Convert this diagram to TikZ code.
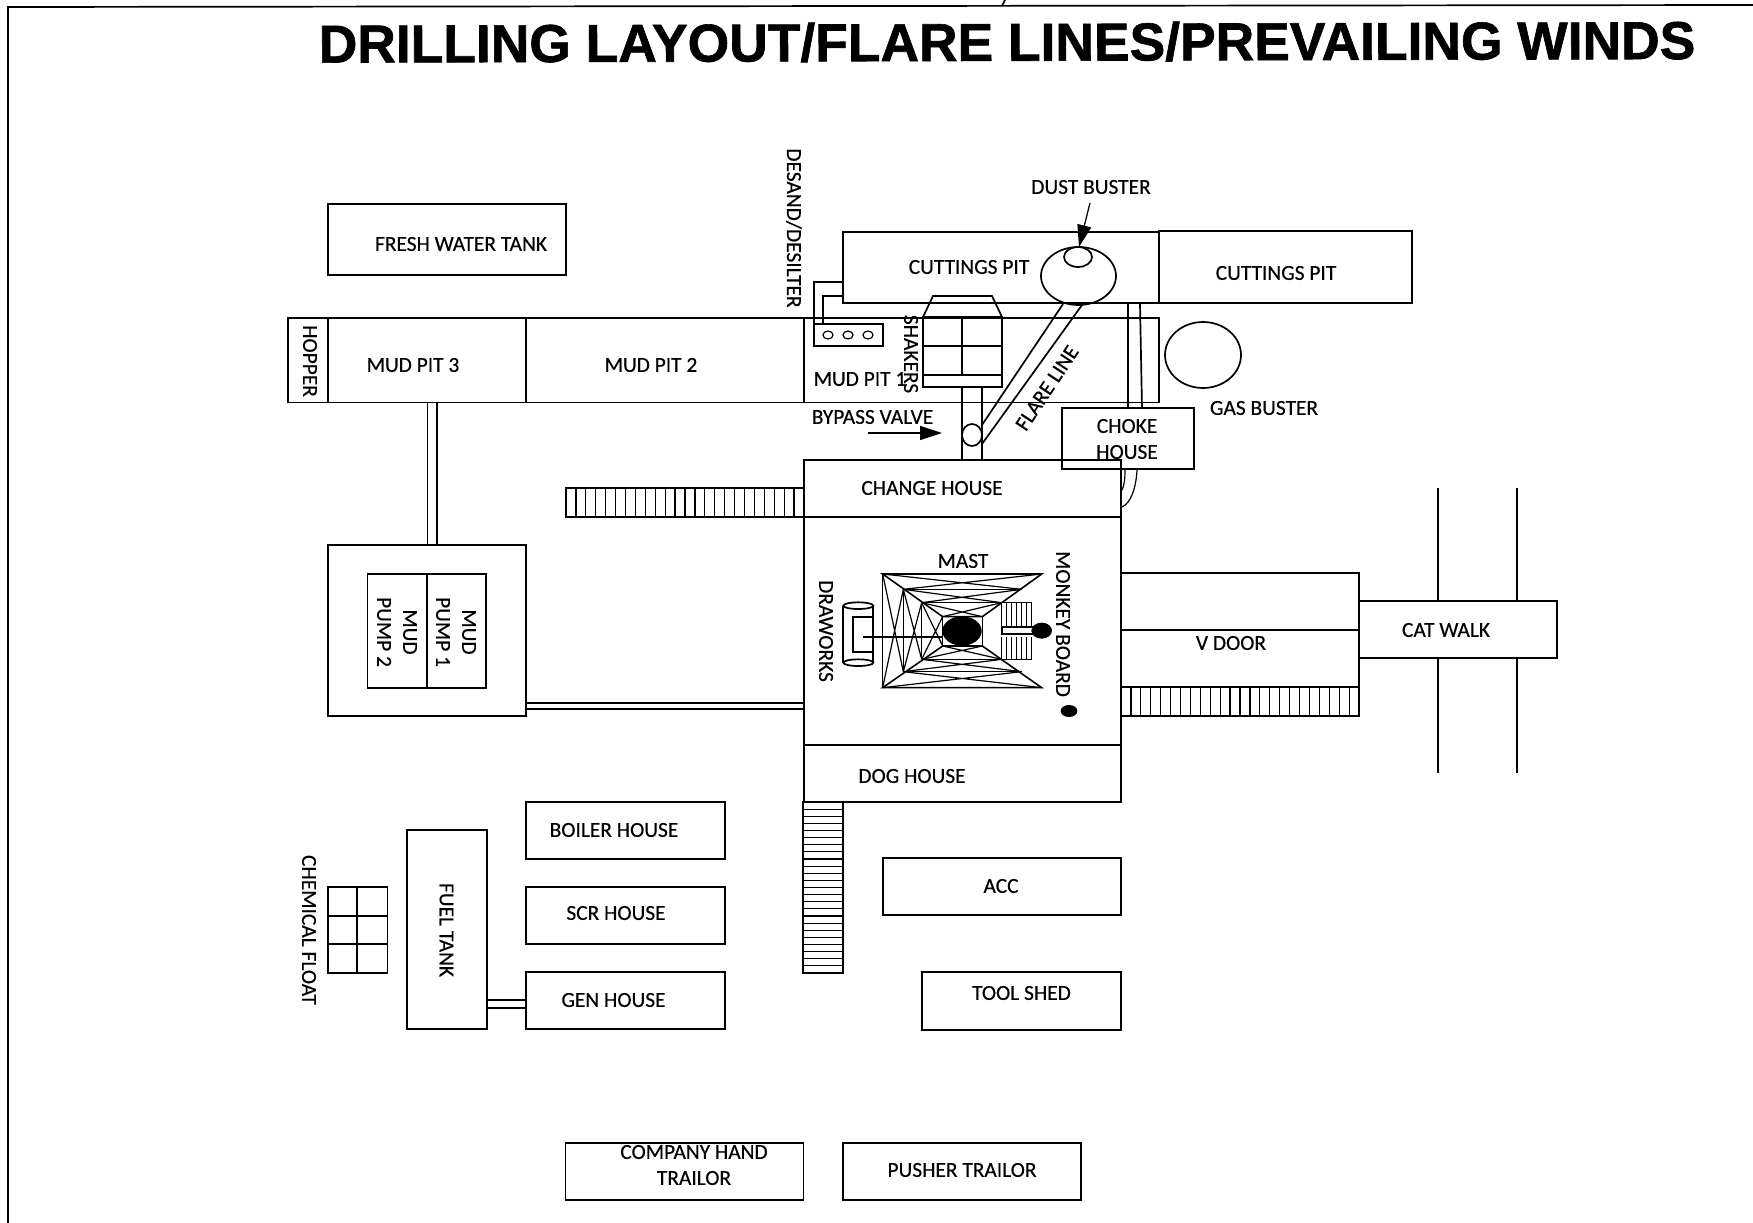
\documentclass[tikz,border=0pt]{standalone}
\usepackage{fontspec}
\setmainfont[FakeBold=0.35]{Carlito}
\newfontfamily\titlefont[FakeBold=1.2]{Liberation Sans}
\usetikzlibrary{arrows.meta}
\tikzset{
  x=1pt,y=-1pt,
  ln/.style={draw=black,line width=1.7pt,line join=miter},
  thinln/.style={draw=black,line width=1.2pt},
  lbl/.style={inner sep=0pt,font=\fontsize{21.4}{26}\selectfont,align=center,text=black},
  vlbl/.style={lbl,rotate=-90},
  bigarrow/.style={draw=black,line width=1.3pt,-{Triangle[length=22pt,width=14pt]}},
}
\begin{document}
\begin{tikzpicture}
\useasboundingbox (0,0) rectangle (1753,1223);
\fill[white] (0,0) rectangle (1753,1223);
% page frame
\draw[ln] (1753,5) -- (8,7) -- (8,1223);
\draw[ln] (1005,0) -- (1002,6);
\node[inner sep=0pt,rotate=0.15,font=\titlefont\bfseries\fontsize{53.4}{60}\selectfont] (title) at (1007,42) {DRILLING LAYOUT/FLARE LINES/PREVAILING WINDS};
% fresh water
\draw[ln] (328,204) rectangle (566,275);
\node[lbl] (fresh) at (461,244) {FRESH WATER TANK};
% cuttings pits
\draw[ln] (843,232) rectangle (1159,303);
\draw[ln] (1159,231) rectangle (1412,303);
\node[lbl] (cut1) at (969,267) {CUTTINGS PIT};
\node[lbl] (cut2) at (1276,273) {CUTTINGS PIT};
\node[lbl] (dust) at (1091,187) {DUST BUSTER};
\draw[ln] (1078.5,276) ellipse [x radius=37.5,y radius=29];
\draw[ln] (1078,257) ellipse [x radius=14,y radius=10];
\draw[bigarrow] (1090,203) -- (1079,247);
% mud pits
\draw[ln] (288,318) rectangle (1159,402.5);
\draw[ln] (328,318) -- (328,402.5) (526,318) -- (526,402.5) (804,318) -- (804,402.5);
\node[vlbl] (hopper) at (310,361) {HOPPER};
\node[lbl] (mp3) at (413,365) {MUD PIT 3};
\node[lbl] (mp2) at (651,365) {MUD PIT 2};
\node[lbl] (mp1) at (860,379) {MUD PIT 1};
% desander
\node[vlbl] (desand) at (794,228) {DESAND/DESILTER};
\draw[ln] (814,324) rectangle (883,346);
\draw[thinln] (828,335) ellipse [x radius=5,y radius=4];
\draw[thinln] (848,335) ellipse [x radius=5,y radius=4];
\draw[thinln] (868,335) ellipse [x radius=5,y radius=4];
\draw[ln] (843,282) -- (814,282) -- (814,324);
\draw[ln] (843,296) -- (823,296) -- (823,324);
% shakers
\draw[ln] (923,317) -- (933,296) -- (992,296) -- (1002,317);
\draw[ln] (923,317) rectangle (1002,387);
\draw[ln] (962,317) -- (962,375);
\draw[ln] (923,346) -- (1002,346) (923,375) -- (1002,375);
\node[vlbl] (shakers) at (911,354) {SHAKERS};
\draw[ln] (962,387) -- (962,460) (982,387) -- (982,460);
\draw[ln] (972,435) ellipse [x radius=10,y radius=11];
\draw[ln] (982,425) -- (1063,304) (982,444) -- (1082,305);
\node[lbl,rotate=56.5] (flare) at (1047,388) {FLARE LINE};
\node[lbl] (bypass) at (872.5,417) {BYPASS VALVE};
\draw[bigarrow] (868,433) -- (942,433);
% gas buster
\draw[ln] (1203,355) ellipse [x radius=38,y radius=33];
\node[lbl] (gas) at (1264,408) {GAS BUSTER};
% choke
\draw[ln] (1128,304) -- (1128,408) (1140,304) -- (1142,408);
\draw[ln] (1062,408) rectangle (1194,469);
\node[lbl] (choke) at (1127,439) {CHOKE\\HOUSE};
% rig house
\draw[ln] (804,460) rectangle (1121,802);
\draw[ln] (804,517) -- (1121,517) (804,745) -- (1121,745);
\node[lbl] (change) at (932,488) {CHANGE HOUSE};
\node[lbl] (dog) at (912,776) {DOG HOUSE};
\draw[thinln] (1125,470) .. controls (1125,480) and (1124,486) .. (1122,490);
\draw[thinln] (1137,470) .. controls (1136,488) and (1131,503) .. (1122,507);
% stairs
\draw[ln] (566,488) rectangle (804,517);
\foreach \i in {1,...,23} \draw[thinln] ({566+\i*238/24},488) -- ({566+\i*238/24},517);
\draw[ln] (1121,687) rectangle (1359,716);
\foreach \i in {1,...,23} \draw[thinln] ({1121+\i*238/24},687) -- ({1121+\i*238/24},716);
\draw[ln] (803,802) rectangle (843,973);
\foreach \i in {1,...,23} \draw[thinln] (803,{802+\i*171/24}) -- (843,{802+\i*171/24});
% v door, catwalk
\draw[ln] (1121,573) rectangle (1359,687);
\draw[ln] (1121,630) -- (1359,630);
\node[lbl] (vdoor) at (1231,643) {V DOOR};
\draw[ln] (1438,488) -- (1438,773) (1517,488) -- (1517,773);
\draw[ln,fill=white] (1359,601) rectangle (1557,658);
\node[lbl] (cat) at (1446,630) {CAT WALK};
% pumps
\draw[ln] (427.5,403) -- (427.5,545) (437,403) -- (437,545);
\draw[ln] (328,545) rectangle (526,716);
\draw[ln] (367.5,574) rectangle (486,688);
\draw[ln] (427,574) -- (427,688);
\node[vlbl] (pump1) at (456,632) {MUD\\PUMP 1};
\node[vlbl] (pump2) at (397,632) {MUD\\PUMP 2};
\draw[ln] (526,703) -- (804,703) (526,709) -- (804,709);
% mast
\node[lbl] (mast) at (963,561) {MAST};
\node[vlbl] (monkey) at (1063,624) {MONKEY BOARD};
\node[vlbl] (draw) at (826,631) {DRAWORKS};
\begin{scope}[shift={(790,540)},scale=0.33333]
 \draw[ln,line width=1.6pt] (278,102) -- (755,102) -- (577,230) -- (458,230) -- cycle;
 \draw[ln,line width=1.6pt] (278,443) -- (755,443) -- (577,318) -- (458,318) -- cycle;
 \draw[ln,line width=1.6pt] (278,102) -- (278,443) (340,148) -- (340,395) (395,188) -- (395,358) (458,230) -- (458,318) (577,230) -- (577,318);
 \draw[ln,line width=1.6pt] (340,148) -- (695,148) (395,188) -- (635,188) (340,395) -- (695,395) (395,358) -- (635,358);
 \draw[thinln] (278,102) -- (340,395) (278,443) -- (340,148) (340,148) -- (395,358) (340,395) -- (395,188) (395,188) -- (458,318) (395,358) -- (458,230);
 \draw[thinln] (278,102) -- (695,148) (340,148) -- (755,102) (340,148) -- (635,188) (395,188) -- (695,148) (395,188) -- (577,230) (458,230) -- (635,188);
 \draw[thinln] (278,443) -- (695,395) (340,395) -- (755,443) (340,395) -- (635,358) (395,358) -- (695,395) (395,358) -- (577,318) (458,318) -- (635,358);
 \fill[black] (516,273) ellipse [x radius=59,y radius=44];
 % drawworks
 \draw[ln] (205,197) ellipse [x radius=45,y radius=10];
 \draw[ln] (205,368) ellipse [x radius=45,y radius=10];
 \draw[ln] (160,197) -- (160,368) (250,197) -- (250,368);
 \draw[ln] (250,230) -- (190,230) -- (190,335) -- (250,335);
 \draw[ln] (218,292) -- (458,292);
 % monkey board
 \fill[white] (635,187) rectangle (725,358);
 \draw[thinln] (635,187) -- (725,187) (635,358) -- (725,358);
 \foreach \x in {635,650,665,680,695,710,725} \draw[thinln] (\x,187) -- (\x,262) (\x,292) -- (\x,358);
 \draw[ln,fill=white] (635,262) rectangle (728,282);
 \fill[black] (755,272) ellipse [x radius=31,y radius=24];
 \fill[black] (837,513) ellipse [x radius=25,y radius=18];
\end{scope}
% lower buildings
\draw[ln] (526,802) rectangle (725,859);
\node[lbl] (boiler) at (614,830) {BOILER HOUSE};
\draw[ln] (526,887) rectangle (725,944);
\node[lbl] (scr) at (616,913) {SCR HOUSE};
\draw[ln] (526,972) rectangle (725,1029);
\node[lbl] (gen) at (613.5,1000) {GEN HOUSE};
\draw[ln] (407,830) rectangle (487,1029);
\node[vlbl] (fuel) at (446.5,930) {FUEL TANK};
\draw[ln] (487,1000) -- (526,1000) (487,1008) -- (526,1008);
\draw[ln] (328,887) rectangle (387.5,973);
\draw[ln] (357,887) -- (357,973) (328,916) -- (387.5,916) (328,944) -- (387.5,944);
\node[vlbl] (chem) at (309,930) {CHEMICAL FLOAT};
\draw[ln] (883,858) rectangle (1121,915);
\node[lbl] (acc) at (1001,886) {ACC};
\draw[ln] (922,972) rectangle (1121,1030);
\node[lbl] (tool) at (1021.5,993) {TOOL SHED};
\draw[ln] (565.5,1143) rectangle (803.5,1200);
\node[lbl] (company) at (694,1165) {COMPANY HAND\\TRAILOR};
\draw[ln] (843,1143) rectangle (1081,1200);
\node[lbl] (pusher) at (962,1170) {PUSHER TRAILOR};
\end{tikzpicture}
\end{document}
